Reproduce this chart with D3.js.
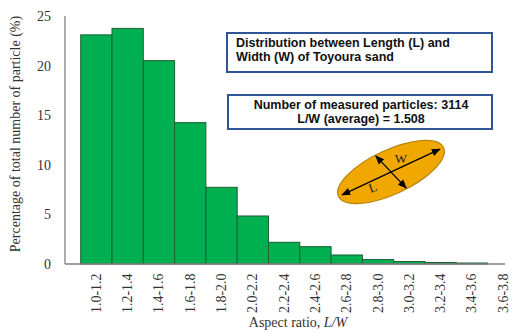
<!DOCTYPE html>
<html><head><meta charset="utf-8">
<script src="https://cdn.jsdelivr.net/npm/d3@7"></script>
<style>body{margin:0;background:#fff}</style>
</head><body>
<svg id="c" width="512" height="332"></svg>
<script>
const categories = ["1.0-1.2","1.2-1.4","1.4-1.6","1.6-1.8","1.8-2.0","2.0-2.2","2.2-2.4","2.4-2.6","2.6-2.8","2.8-3.0","3.0-3.2","3.2-3.4","3.4-3.6","3.6-3.8"];
const percentages = [23.1, 23.75, 20.5, 14.25, 7.73, 4.84, 2.19, 1.75, 0.91, 0.45, 0.25, 0.15, 0.1, 0];
const yTicks = [0, 5, 10, 15, 20, 25];
const infoTitle = ["Distribution between Length (L) and", "Width (W) of Toyoura sand"];
const infoStats = ["Number of measured particles: 3114", "L/W (average) = 1.508"];

const svg = d3.select("#c");
const serif = "'Liberation Serif', 'Times New Roman', serif";
const sans = "'Liberation Sans', Arial, sans-serif";

const y = d3.scaleLinear().domain([0, 25]).range([264, 16]);
const x = d3.scaleBand().domain(categories).range([80.7, 80.7 + 14 * 31.3]).padding(0);

// bars
svg.append("g").selectAll("rect").data(categories).join("rect")
  .attr("x", d => x(d))
  .attr("y", (d, i) => y(percentages[i]))
  .attr("width", x.bandwidth())
  .attr("height", (d, i) => y(0) - y(percentages[i]))
  .attr("fill", "#00b050")
  .attr("stroke", "#1f5f35")
  .attr("stroke-width", 1);

// axes lines
svg.append("line").attr("x1", 65).attr("x2", 65).attr("y1", 16).attr("y2", 264)
  .attr("stroke", "#808080").attr("stroke-width", 1.3);
svg.append("line").attr("x1", 65).attr("x2", 505).attr("y1", 264).attr("y2", 264)
  .attr("stroke", "#808080").attr("stroke-width", 1.3);

// y ticks
const yAxis = d3.axisLeft(y).tickValues(yTicks).tickSize(0).tickPadding(0);
const gy = svg.append("g").attr("transform", "translate(51,0)").call(yAxis);
gy.select(".domain").remove();
gy.selectAll("text").attr("font-family", serif).attr("font-size", 14).attr("fill", "#333");

// x ticks
const xAxis = d3.axisBottom(x).tickSize(0).tickPadding(0);
const gx = svg.append("g").attr("transform", "translate(0,272)").call(xAxis);
gx.select(".domain").remove();
gx.selectAll("text")
  .attr("font-family", serif).attr("font-size", 14).attr("fill", "#333")
  .attr("text-anchor", "end")
  .attr("dx", "-0.1em").attr("dy", "0.32em")
  .attr("x", 0).attr("y", 0)
  .attr("transform", "rotate(-90)");

// axis titles
svg.append("text")
  .attr("transform", "translate(20,134) rotate(-90)")
  .attr("text-anchor", "middle")
  .attr("font-family", serif).attr("font-size", 14).attr("fill", "#333")
  .text("Percentage of total number of particle  (%)");
const xt = svg.append("text")
  .attr("x", 298).attr("y", 327)
  .attr("text-anchor", "middle")
  .attr("font-family", serif).attr("font-size", 14).attr("fill", "#333");
xt.append("tspan").text("Aspect ratio, ");
xt.append("tspan").attr("font-style", "italic").text("L/W");

// info boxes
const b1 = svg.append("g");
b1.append("rect").attr("x", 227).attr("y", 33).attr("width", 265).attr("height", 39)
  .attr("fill", "#fff").attr("stroke", "#2f5597").attr("stroke-width", 2);
b1.selectAll("text").data(infoTitle).join("text")
  .attr("x", 236).attr("y", (d, i) => 47 + i * 14)
  .attr("font-family", sans).attr("font-weight", "bold").attr("font-size", 12.5).attr("fill", "#111")
  .text(d => d);

const b2 = svg.append("g");
b2.append("rect").attr("x", 228).attr("y", 95).attr("width", 264).attr("height", 34)
  .attr("fill", "#fff").attr("stroke", "#2f5597").attr("stroke-width", 2);
b2.selectAll("text").data(infoStats).join("text")
  .attr("x", 361).attr("y", (d, i) => 109 + i * 14)
  .attr("text-anchor", "middle")
  .attr("font-family", sans).attr("font-weight", "bold").attr("font-size", 12.5).attr("fill", "#111")
  .text(d => d);

// ellipse illustration
const defs = svg.append("defs");
defs.append("marker").attr("id", "ah").attr("viewBox", "0 0 10 10")
  .attr("refX", 9).attr("refY", 5).attr("markerWidth", 7).attr("markerHeight", 7)
  .attr("orient", "auto-start-reverse")
  .append("path").attr("d", "M0,1 L10,5 L0,9 Z").attr("fill", "#000");

const eg = svg.append("g").attr("transform", "translate(391,172) rotate(-25)");
eg.append("ellipse").attr("rx", 58).attr("ry", 22)
  .attr("fill", "#f0a800").attr("stroke", "#b8860b").attr("stroke-width", 1.2);
eg.append("line").attr("x1", -54).attr("y1", 0).attr("x2", 54).attr("y2", 0)
  .attr("stroke", "#000").attr("stroke-width", 1.3)
  .attr("marker-start", "url(#ah)").attr("marker-end", "url(#ah)");
eg.append("line").attr("x1", -7).attr("y1", -21).attr("x2", 7).attr("y2", 21)
  .attr("stroke", "#000").attr("stroke-width", 1.3)
  .attr("marker-start", "url(#ah)").attr("marker-end", "url(#ah)");
svg.append("text").attr("x", 401).attr("y", 163).attr("text-anchor", "middle")
  .attr("font-family", serif).attr("font-size", 13).attr("fill", "#222").text("W");
svg.append("text").attr("x", 373).attr("y", 192).attr("text-anchor", "middle")
  .attr("transform", "rotate(-20,373,188)")
  .attr("font-family", serif).attr("font-size", 13).attr("fill", "#222").text("L");
</script>
</body></html>
